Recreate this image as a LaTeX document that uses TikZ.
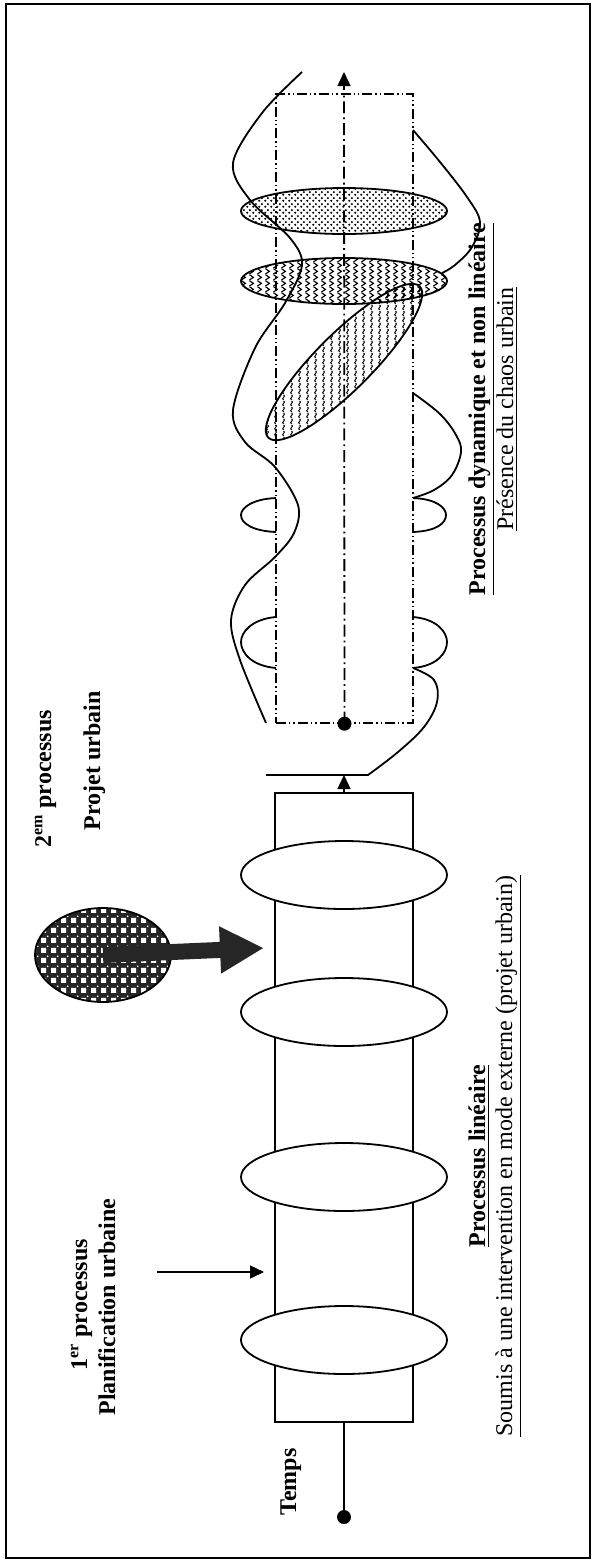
\documentclass[tikz,border=0pt]{standalone}
\usepackage{fontspec}
\setmainfont{Liberation Serif}
\usepackage{tikz}
\usetikzlibrary{shapes.geometric, arrows.meta, patterns}
\pgfdeclarepatternformonly{zigzag}{\pgfpointorigin}{\pgfpoint{4pt}{2.8pt}}{\pgfpoint{4pt}{2.8pt}}{%
  \pgfsetlinewidth{0.6pt}\pgfpathmoveto{\pgfpoint{0.8pt}{0pt}}\pgfpathlineto{\pgfpoint{3pt}{1.4pt}}\pgfpathlineto{\pgfpoint{0.8pt}{2.8pt}}\pgfusepath{stroke}}
\pgfdeclarepatternformonly{squiggle}{\pgfpointorigin}{\pgfpoint{4pt}{3pt}}{\pgfpoint{4pt}{3pt}}{%
  \pgfsetlinewidth{0.55pt}\pgfpathmoveto{\pgfpoint{2pt}{0pt}}\pgfpathcurveto{\pgfpoint{0.3pt}{0.8pt}}{\pgfpoint{3.7pt}{2.2pt}}{\pgfpoint{2pt}{3pt}}\pgfusepath{stroke}}
\pgfdeclarepatternformonly{dotgrid}{\pgfpointorigin}{\pgfpoint{3pt}{3pt}}{\pgfpoint{3pt}{3pt}}{%
  \pgfpathcircle{\pgfpoint{0.75pt}{0.75pt}}{0.65pt}\pgfpathcircle{\pgfpoint{2.25pt}{2.25pt}}{0.65pt}\pgfusepath{fill}}
\pgfdeclarepatternformonly{squaregrid}{\pgfpointorigin}{\pgfpoint{5pt}{5pt}}{\pgfpoint{5pt}{5pt}}{%
  \pgfpathrectangle{\pgfpoint{0.6pt}{0.6pt}}{\pgfpoint{2.8pt}{2.8pt}}\pgfpathcircle{\pgfpoint{4.2pt}{4.2pt}}{0.5pt}\pgfusepath{fill}}
\tikzset{
  disc/.style={ellipse, draw, line width=0.9pt, fill=white, minimum width=103pt, minimum height=34pt, inner sep=0pt},
  flou/.style={ellipse, draw, line width=0.9pt, minimum width=103pt, minimum height=23pt, inner sep=0pt},
  barre/.style={rectangle, draw, line width=0.8pt, minimum width=69pt, minimum height=314.5pt, inner sep=0pt},
  cadre/.style={rectangle, draw, line width=0.7pt, dash pattern=on 5pt off 1.5pt on 0.7pt off 1.5pt on 0.7pt off 1.5pt, minimum width=68.5pt, minimum height=314.5pt, inner sep=0pt},
  point/.style={circle, fill=black, minimum size=7pt, inner sep=0pt},
  titre/.style={rotate=90, anchor=base, font=\fontsize{12}{14}\selectfont\bfseries},
  texte/.style={rotate=90, anchor=base, font=\fontsize{12}{14}\selectfont},
  axe/.style={line width=0.9pt, dash pattern=on 6pt off 2pt on 0.9pt off 2pt},
  arrow/.style={-{Triangle[length=7pt, width=6.5pt]}, line width=0.7pt},
  grosse/.style={-{Triangle[length=22pt, width=22pt]}, line width=8pt, draw=black!85},
  onde/.style={line width=0.9pt},
}
\begin{document}
\begin{tikzpicture}[x=0.5pt, y=-0.5pt]
\useasboundingbox (0,0) rectangle (595,1564);
\draw[line width=0.7pt] (6,4) rectangle (590,1558);
% processus lineaire
\node[barre] (lin) at (344,1107.5) {};
\node[point] (t0) at (344,1517) {};
\draw[line width=0.9pt] (t0) -- (lin.south);
\node[disc] (d1) at (344,1340) {};
\node[disc] (d2) at (344,1177) {};
\node[disc] (d3) at (344,1012) {};
\node[disc] (d4) at (344,875) {};
\coordinate (plan) at (157,1272); \coordinate (plan2) at (264,1272);
\draw[arrow] (plan) -- (plan2);
\node[ellipse, draw, line width=0.9pt, preaction={fill=black!85}, pattern=squaregrid, pattern color=white, minimum width=68pt, minimum height=47pt, inner sep=0pt] (projet) at (103,955) {};
\coordinate (cible) at (264,948);
\draw[grosse] (projet.center) -- (cible);
\coordinate (jonc) at (344,775);
\draw[arrow] (lin.north) -- (jonc);
% processus non lineaire
\node[cadre] (chaos) at (344.5,408.5) {};
\coordinate (fin) at (344,72);
\draw[axe] (chaos.south) -- (344,94);
\draw[arrow] (344,90) -- (fin);
\node[point] (t1) at (chaos.south) {};
\node[flou, rotate=45, minimum width=107pt, minimum height=28pt, pattern=squiggle] (e3) at (344,362) {};
\node[flou, pattern=zigzag] (e2) at (344,281) {};
\node[flou, pattern=dotgrid] (e1) at (344,211) {};
\draw[onde] plot[smooth, tension=0.55] coordinates {(302,72) (262,113) (233,163) (250,200) (290,238) (302,265) (285,303) (255,348) (233,410) (245,442) (275,467) (298,505) (294,533) (275,557) (245,585) (231,620) (240,660) (266,723)};
\draw[onde] plot[smooth, tension=0.6] coordinates {(413,130) (440,162) (467,197) (480,222) (472,247) (455,265) (442,273)};
\draw[onde] plot[smooth, tension=0.6] coordinates {(413,393) (440,414) (456,435) (461,452) (452,475) (434,490) (413,498)};
\draw[onde] (276,498) .. controls (252,499) and (241,508) .. (241,515) .. controls (241,523) and (252,531) .. (276,532);
\draw[onde] (276,617) .. controls (252,619) and (241,632) .. (241,642) .. controls (241,653) and (252,666) .. (276,668);
\draw[onde] (413,498) .. controls (437,499) and (446,508) .. (446,515) .. controls (446,523) and (437,531) .. (413,532);
\draw[onde] (413,617) .. controls (437,619) and (447,632) .. (447,642) .. controls (447,653) and (437,666) .. (413,668);
\draw[onde] (266,775) -- (368,775) -- plot[smooth, tension=0.6] coordinates {(368,775) (398,752) (424,727) (437,702) (434,680) (413,668)};
% textes
\node[titre] (temps) at (296,1482) {Temps};
\node[titre] (p1) at (87,1305) {1\textsuperscript{er} processus};
\node[titre] (p1b) at (115,1307) {Planification urbaine};
\node[titre] (p2) at (51,779) {2\textsuperscript{em} processus};
\node[titre] (p2b) at (100,761) {Projet urbain};
\node[titre] (lint) at (485,1156) {\underline{Processus linéaire}};
\node[texte] (lins) at (512,1156) {\underline{Soumis à une intervention en mode externe (projet urbain)}};
\node[titre] (chaost) at (485,409) {\underline{Processus dynamique et non linéaire}};
\node[texte] (chaoss) at (513,409) {\underline{Présence du chaos urbain}};
\end{tikzpicture}
\end{document}
